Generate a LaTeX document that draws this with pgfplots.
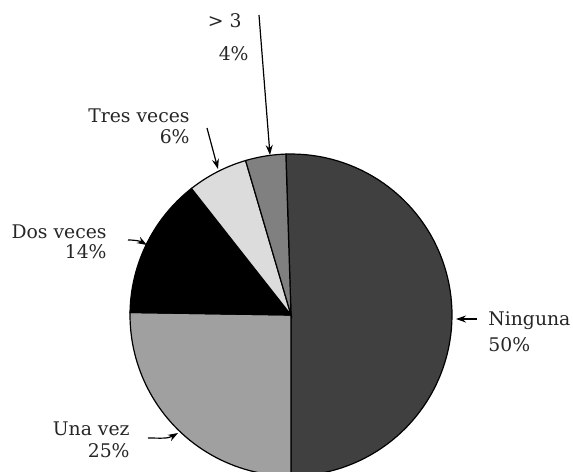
\documentclass[border=0pt]{standalone}
\usepackage{fontspec}
\setmainfont{DejaVu Serif}
\usepackage{pgfplots}
\pgfplotsset{compat=1.18}
\usetikzlibrary{arrows.meta}
\definecolor{cNing}{HTML}{404040}
\definecolor{cUna}{HTML}{A0A0A0}
\definecolor{cDos}{HTML}{000000}
\definecolor{cTres}{HTML}{DCDCDC}
\definecolor{cMas}{HTML}{808080}
\begin{document}
\begin{tikzpicture}
% percentages (plain data)
\def\pNing{50}\def\pUna{25}\def\pDos{14}\def\pTres{6}\def\pMas{4}
\pgfmathsetmacro{\tot}{\pNing+\pUna+\pDos+\pTres+\pMas}
\pgfmathsetmacro{\aA}{-90+\pNing/\tot*360}
\pgfmathsetmacro{\aB}{-90}
\pgfmathsetmacro{\aC}{\aB-\pUna/\tot*360}
\pgfmathsetmacro{\aD}{\aC-\pDos/\tot*360}
\pgfmathsetmacro{\aE}{\aD-\pTres/\tot*360}
\pgfmathsetmacro{\aF}{\aE-\pMas/\tot*360}
\begin{axis}[
  hide axis, scale only axis,
  width=286.5pt, height=235.5pt,
  xmin=0, xmax=573, ymin=0, ymax=471,
  clip=true,
]
\addplot[fill=cNing, draw=black, line width=0.6pt, domain=\aB:\aA, samples=80] ({291+161*cos(x)},{156+161*sin(x)}) -- (axis cs:291,156) -- cycle;
\addplot[fill=cUna, draw=black, line width=0.6pt, domain=\aC:\aB, samples=50] ({291+161*cos(x)},{156+161*sin(x)}) -- (axis cs:291,156) -- cycle;
\addplot[fill=cDos, draw=black, line width=0.6pt, domain=\aD:\aC, samples=40] ({291+161*cos(x)},{156+161*sin(x)}) -- (axis cs:291,156) -- cycle;
\addplot[fill=cTres, draw=black, line width=0.6pt, domain=\aE:\aD, samples=25] ({291+161*cos(x)},{156+161*sin(x)}) -- (axis cs:291,156) -- cycle;
\addplot[fill=cMas, draw=black, line width=0.6pt, domain=\aF:\aE, samples=20] ({291+161*cos(x)},{156+161*sin(x)}) -- (axis cs:291,156) -- cycle;

\begin{scope}[font=\fontsize{9.4}{11}\selectfont, text=black!85, inner xsep=0pt]
\node[anchor=base east] at (axis cs:242,443.3) {> 3};
\node[anchor=base east] at (axis cs:249,410.3) {4\%};
\node[anchor=base east] at (axis cs:190,348.7) {Tres veces};
\node[anchor=base east] at (axis cs:190,327.7) {6\%};
\node[anchor=base east] at (axis cs:107,232.7) {Dos veces};
\node[anchor=base east] at (axis cs:107,212.7) {14\%};
\node[anchor=base west] at (axis cs:488,146) {Ninguna};
\node[anchor=base west] at (axis cs:488,119.3) {50\%};
\node[anchor=base east] at (axis cs:130,36) {Una vez};
\node[anchor=base east] at (axis cs:130,13.7) {25\%};
\end{scope}
\begin{scope}[line width=0.6pt, -{Stealth[length=5pt,width=3.5pt]}]
\draw (axis cs:259,456) -- (axis cs:270,316);
\draw (axis cs:207,343) -- (axis cs:218,302);
\draw (axis cs:477,152) -- (axis cs:456,152);
\draw (axis cs:128,231) to[out=0,in=150] (axis cs:147,226);
\draw (axis cs:148,33) to[out=0,in=210] (axis cs:178,38);
\end{scope}
\end{axis}
\pgfresetboundingbox
\useasboundingbox (current axis.south west) rectangle (current axis.north east);
\end{tikzpicture}
\end{document}
